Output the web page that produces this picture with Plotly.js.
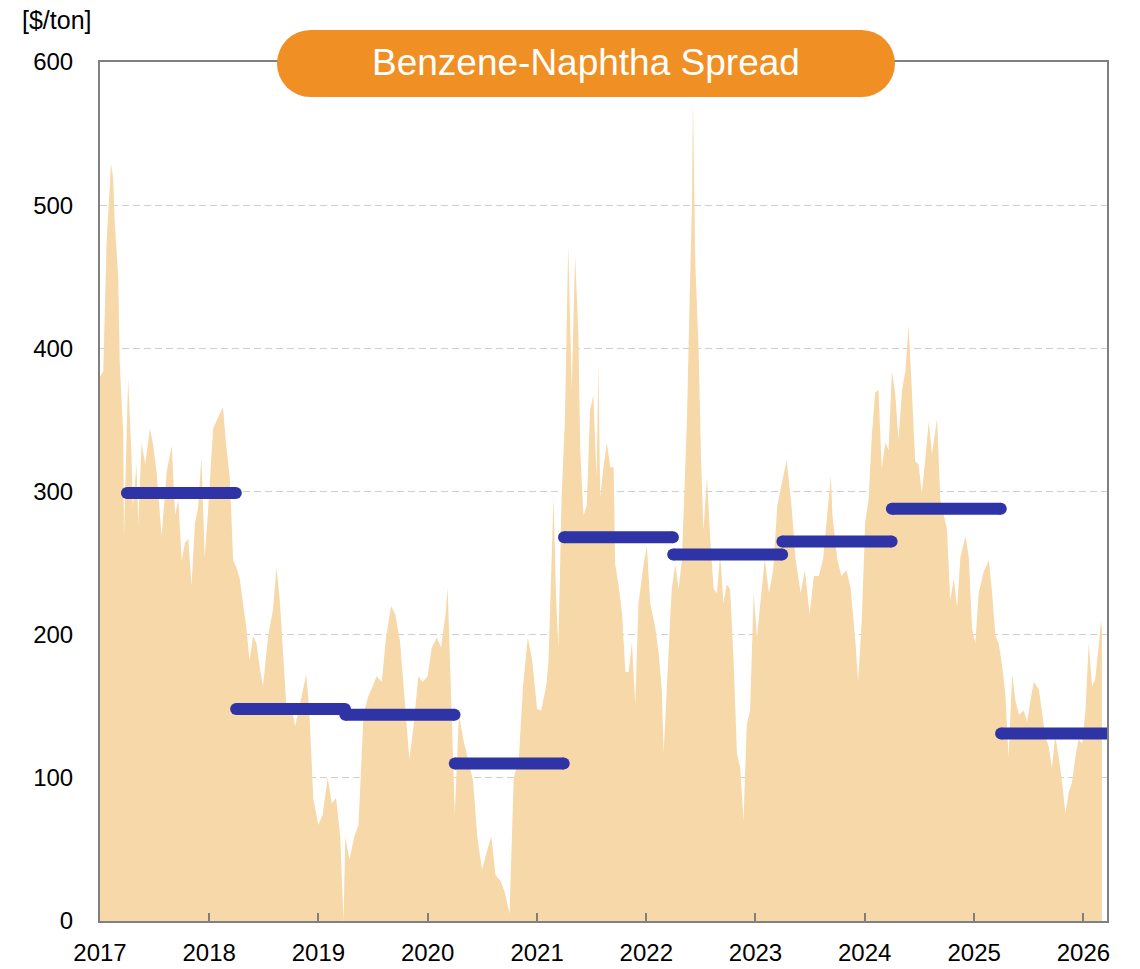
<!DOCTYPE html>
<html>
<head>
<meta charset="utf-8">
<script src="https://cdn.plot.ly/plotly-3.0.1.min.js"></script>
<style>
  html, body { margin: 0; padding: 0; background: #ffffff; }
  #chart { width: 1140px; height: 969px; }
</style>
</head>
<body>
<div id="chart"></div>
<script>
// Benzene-naphtha spread ($/ton), year by year
var d2017 = ['2017-01-01','2017-01-12','2017-01-23','2017-02-03','2017-02-07','2017-02-14','2017-02-19','2017-03-03','2017-03-08','2017-03-20','2017-03-22','2017-04-05','2017-04-16','2017-04-21','2017-05-03','2017-05-09','2017-05-20','2017-06-01','2017-06-17','2017-06-28','2017-07-09','2017-07-26','2017-08-12','2017-08-29','2017-09-09','2017-09-20','2017-10-01','2017-10-12','2017-10-23','2017-11-03','2017-11-14','2017-11-25','2017-12-06','2017-12-17','2017-12-29'];
var v2017 = [380,384,474,516,529,519,489,449,389,339,267,379,327,289,319,277,334,319,344,332,314,269,314,332,284,294,252,264,267,234,277,289,324,254,289];

var d2018 = ['2018-01-14','2018-01-25','2018-02-16','2018-02-27','2018-03-11','2018-03-22','2018-04-02','2018-04-13','2018-04-24','2018-05-05','2018-05-16','2018-05-28','2018-06-08','2018-06-19','2018-06-30','2018-07-17','2018-08-02','2018-08-14','2018-08-25','2018-09-05','2018-09-16','2018-10-01','2018-10-15','2018-11-01','2018-11-21','2018-12-01','2018-12-15'];
var v2018 = [344,349,359,332,309,252,247,239,222,205,182,199,194,177,164,199,217,247,224,189,150,152,136,152,172,150,85];

var d2019 = ['2019-01-01','2019-01-15','2019-02-01','2019-02-15','2019-03-01','2019-03-15','2019-03-26','2019-04-01','2019-04-15','2019-05-01','2019-05-15','2019-06-01','2019-06-15','2019-07-01','2019-07-15','2019-08-01','2019-08-15','2019-09-01','2019-09-15','2019-10-01','2019-10-15','2019-11-01','2019-11-15','2019-12-01','2019-12-15'];
var v2019 = [67,74,100,82,86,59,0,59,43,59,67,144,156,164,171,167,198,220,214,195,156,113,136,171,167];

var d2020 = ['2020-01-01','2020-01-15','2020-02-01','2020-02-15','2020-03-01','2020-03-08','2020-03-20','2020-04-01','2020-04-15','2020-05-01','2020-05-15','2020-06-01','2020-06-15','2020-07-01','2020-07-15','2020-08-01','2020-08-15','2020-09-01','2020-09-15','2020-10-01','2020-10-15','2020-11-01','2020-11-15','2020-12-01','2020-12-15'];
var v2020 = [171,191,198,191,214,233,160,75,144,125,113,98,59,36,47,59,32,28,20,5,100,113,164,198,183];

var d2021 = ['2021-01-01','2021-01-15','2021-02-01','2021-02-08','2021-02-19','2021-02-25','2021-03-05','2021-03-13','2021-03-24','2021-04-04','2021-04-15','2021-04-27','2021-05-08','2021-05-19','2021-05-25','2021-06-05','2021-06-16','2021-06-27','2021-07-08','2021-07-19','2021-07-25','2021-07-31','2021-08-11','2021-08-22','2021-09-03','2021-09-14','2021-09-19','2021-09-30','2021-10-12','2021-10-23','2021-11-03','2021-11-14','2021-11-25','2021-12-06','2021-12-23'];
var v2021 = [148,147,165,181,249,296,229,191,296,350,472,371,465,411,330,283,290,357,367,310,388,296,317,334,317,317,249,235,215,174,174,195,151,222,249];

var d2022 = ['2022-01-03','2022-01-14','2022-01-31','2022-02-11','2022-02-22','2022-02-28','2022-03-11','2022-03-27','2022-04-08','2022-04-19','2022-04-30','2022-05-08','2022-05-17','2022-05-26','2022-06-03','2022-06-06','2022-06-14','2022-06-25','2022-07-03','2022-07-11','2022-07-23','2022-08-03','2022-08-14','2022-08-25','2022-09-05','2022-09-16','2022-09-27','2022-10-08','2022-10-20','2022-10-31','2022-11-11','2022-11-22','2022-12-03','2022-12-14','2022-12-26'];
var v2022 = [262,222,205,188,161,117,164,232,249,232,252,306,350,435,503,574,459,398,323,273,310,266,232,229,256,222,235,232,181,117,107,70,137,147,229];

var d2023 = ['2023-01-06','2023-01-15','2023-02-01','2023-02-15','2023-03-01','2023-03-15','2023-04-01','2023-04-15','2023-05-01','2023-05-15','2023-06-01','2023-06-15','2023-07-01','2023-07-15','2023-08-01','2023-08-15','2023-09-01','2023-09-10','2023-09-15','2023-10-01','2023-10-15','2023-11-01','2023-11-15','2023-12-01','2023-12-10','2023-12-22'];
var v2023 = [198,218,253,229,245,290,307,322,291,253,229,245,214,241,241,253,291,311,284,253,241,245,233,195,167,209];

var d2024 = ['2024-01-03','2024-01-14','2024-01-25','2024-02-05','2024-02-16','2024-02-27','2024-03-10','2024-03-21','2024-04-01','2024-04-12','2024-04-23','2024-05-05','2024-05-16','2024-05-27','2024-06-07','2024-06-18','2024-06-29','2024-07-10','2024-07-21','2024-08-02','2024-08-13','2024-08-30','2024-09-10','2024-09-21','2024-10-02','2024-10-13','2024-10-25','2024-11-05','2024-11-16','2024-12-03','2024-12-14','2024-12-25'];
var v2024 = [279,294,339,369,371,316,334,329,384,369,336,371,384,416,369,321,319,299,321,349,326,351,294,284,274,224,239,219,254,269,254,204];

var d2025 = ['2025-01-05','2025-01-16','2025-02-02','2025-02-19','2025-03-02','2025-03-13','2025-03-24','2025-04-04','2025-04-15','2025-04-26','2025-05-08','2025-05-19','2025-05-31','2025-06-16','2025-06-27','2025-07-08','2025-07-19','2025-08-05','2025-08-16','2025-08-27','2025-09-07','2025-09-18','2025-09-29','2025-10-11','2025-10-22','2025-11-02','2025-11-13','2025-11-24','2025-12-05','2025-12-16','2025-12-28'];
var v2025 = [194,229,244,252,229,199,194,179,159,114,172,154,144,147,139,154,167,162,144,129,122,107,129,114,97,75,90,97,114,127,124];

var d2026 = ['2026-01-08','2026-01-19','2026-01-30','2026-02-10','2026-02-22','2026-03-01','2026-03-04'];
var v2026 = [147,194,164,169,197,209,205];

// Fiscal-year (April-March) averages
var fyStart = ['2017-04-01','2018-04-01','2019-04-01','2020-04-01','2021-04-01','2022-04-01','2023-04-01','2024-04-01','2025-04-01'];
var fyEnd   = ['2018-03-31','2019-03-31','2020-03-31','2021-03-31','2022-03-31','2023-03-31','2024-03-31','2025-03-31','2026-03-31'];
var fyAvg   = [299, 148, 144, 110, 268, 256, 265, 288, 131];

var yearTicks  = ['2017-01-01','2018-01-01','2019-01-01','2020-01-01','2021-01-01','2022-01-01','2023-01-01','2024-01-01','2025-01-01','2026-01-01'];
var yearLabels = ['2017','2018','2019','2020','2021','2022','2023','2024','2025','2026'];

var chartTitle = 'Benzene-Naphtha Spread';
var unitLabel = '[$/ton]';

var FONT = 'Arial, "Liberation Sans", Helvetica, sans-serif';

var spreadDates = [].concat(d2017, d2018, d2019, d2020, d2021, d2022, d2023, d2024, d2025, d2026);
var spreadValues = [].concat(v2017, v2018, v2019, v2020, v2021, v2022, v2023, v2024, v2025, v2026);

var barX = [], barY = [], capX = [], capY = [];
for (var i = 0; i < fyAvg.length; i++) {
  barX.push(fyStart[i], fyEnd[i], null);
  barY.push(fyAvg[i], fyAvg[i], null);
  capX.push(fyStart[i], fyEnd[i]);
  capY.push(fyAvg[i], fyAvg[i]);
}

var BLUE = '#2E33A6';
var traces = [
  {
    type: 'scatter', mode: 'lines',
    x: spreadDates, y: spreadValues,
    fill: 'tozeroy', fillcolor: '#F7D8A8',
    line: { width: 0, color: '#F7D8A8' },
    hoverinfo: 'skip', showlegend: false
  },
  {
    type: 'scatter', mode: 'lines',
    x: barX, y: barY, connectgaps: false,
    line: { width: 12, color: BLUE },
    hoverinfo: 'skip', showlegend: false
  },
  {
    type: 'scatter', mode: 'markers',
    x: capX, y: capY, cliponaxis: false,
    marker: { size: 12, color: BLUE, line: { width: 0 } },
    hoverinfo: 'skip', showlegend: false
  }
];

var pillColor = '#F08F23';
var layout = {
  width: 1140, height: 969,
  margin: { l: 100, r: 33, t: 62, b: 48, pad: 0 },
  paper_bgcolor: '#ffffff', plot_bgcolor: '#ffffff',
  font: { family: FONT, color: '#000000', size: 24 },
  showlegend: false,
  xaxis: {
    type: 'date',
    range: ['2017-01-01', '2026-03-21'],
    tickmode: 'array', tickvals: yearTicks, ticktext: yearLabels,
    ticks: 'inside', ticklen: 8, tickwidth: 2, tickcolor: '#808080',
    showgrid: false, zeroline: false,
    showline: true, linecolor: '#808080', linewidth: 2, mirror: true,
    tickfont: { family: FONT, size: 24, color: '#000000' },
    ticklabelstandoff: 9
  },
  yaxis: {
    range: [0, 600], tickmode: 'linear', tick0: 0, dtick: 100,
    ticks: '', showgrid: true, gridcolor: '#CFCFCF', gridwidth: 1.3, griddash: '7px,4px',
    zeroline: false,
    showline: true, linecolor: '#808080', linewidth: 2, mirror: true,
    tickfont: { family: FONT, size: 24, color: '#000000' },
    ticklabelstandoff: 20
  },
  shapes: [
    { type: 'rect', xref: 'paper', yref: 'paper', x0: 0.20904, x1: 0.75621, y0: 0.95925, y1: 1.03725,
      fillcolor: pillColor, line: { width: 0 }, layer: 'above' },
    { type: 'circle', xref: 'paper', yref: 'paper', x0: 0.17577, x1: 0.24230, y0: 0.95925, y1: 1.03725,
      fillcolor: pillColor, line: { width: 0 }, layer: 'above' },
    { type: 'circle', xref: 'paper', yref: 'paper', x0: 0.72294, x1: 0.78947, y0: 0.95925, y1: 1.03725,
      fillcolor: pillColor, line: { width: 0 }, layer: 'above' }
  ],
  annotations: [
    { text: chartTitle, xref: 'paper', yref: 'paper', x: 0.48262, y: 0.99884,
      xanchor: 'center', yanchor: 'middle', showarrow: false,
      font: { family: FONT, size: 37, color: '#ffffff' } },
    { text: unitLabel, xref: 'paper', yref: 'paper', x: -0.0427, y: 1.0489,
      xanchor: 'center', yanchor: 'middle', showarrow: false,
      font: { family: FONT, size: 25, color: '#000000' } }
  ]
};

Plotly.newPlot('chart', traces, layout, { displayModeBar: false, staticPlot: true });
</script>
</body>
</html>
